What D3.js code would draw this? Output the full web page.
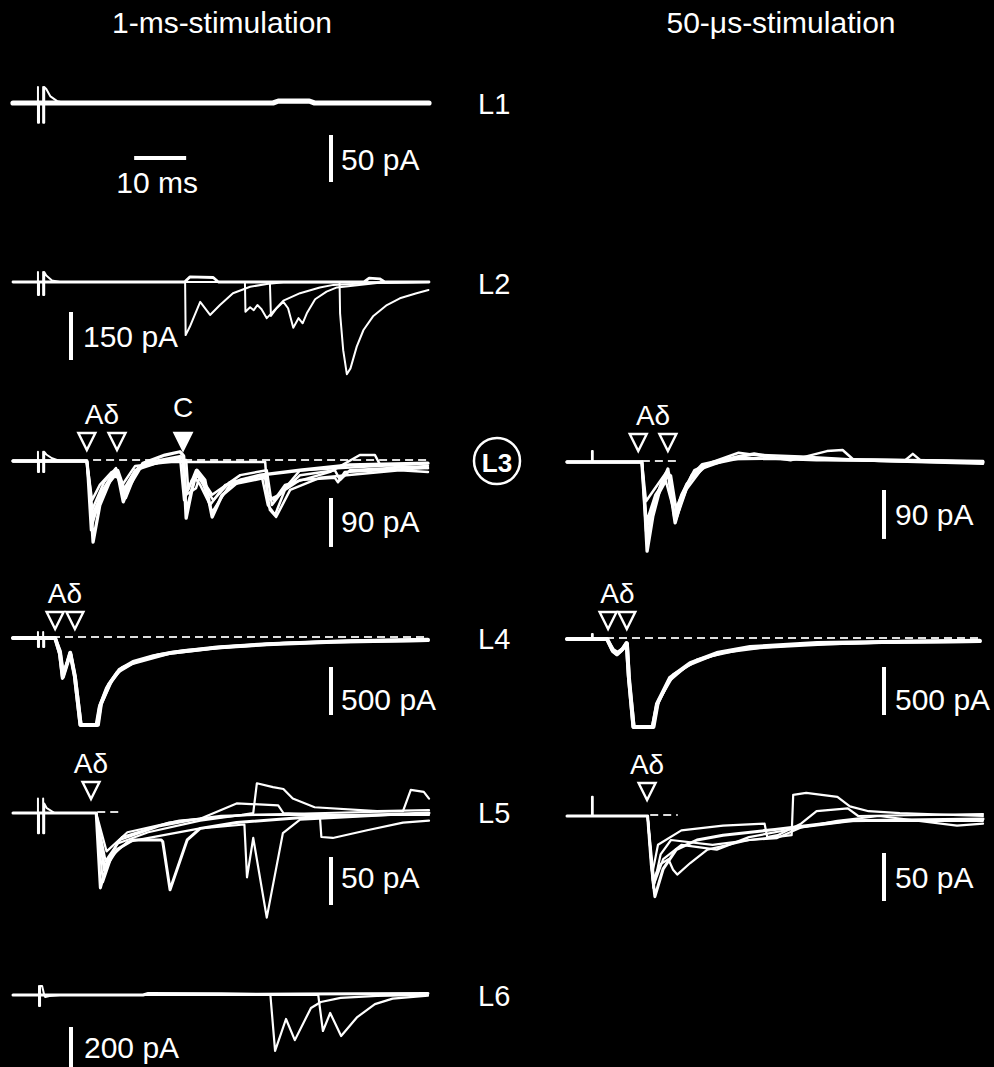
<!doctype html>
<html lang="en">
<head>
  <meta charset="utf-8">
  <title>Evoked EPSCs per lamina</title>
  <style>
  body { margin: 0; background: #000; }
  svg { display: block; background: #000; }
  text { font-family: "Liberation Sans", Arial, sans-serif; fill: #fff; }
  .trace { fill: none; stroke: #fff; stroke-linejoin: round; stroke-linecap: round; }
  .zero { stroke: #ddd; stroke-width: 2.2; stroke-dasharray: 8,5; }
  .bar { stroke: #fff; stroke-width: 4; }
  </style>
</head>
<body>
  <div id="fig"></div>
  <script src="https://cdn.jsdelivr.net/npm/d3@7"></script>

  <script>
// ---- data: time in ms, current in pA ----
var columns = ["1-ms-stimulation", "50-\u03bcs-stimulation"];
var laminae = ["L1", "L2", "L3", "L4", "L5", "L6"];

// stimulus artefacts
var stimL1 = [[4.8,0],[4.8,17],[4.8,-21],[5.0,-21],[5.0,0],[5.8,0],[5.8,17],[5.8,-21],[6.0,-21],[6.0,17],[6.4,15],[7.2,7],[8.5,2],[10,0]];
var stimL2 = [[4.8,0],[4.8,31],[4.8,-41],[5.0,-41],[5.0,0],[5.8,0],[5.8,31],[5.8,-41],[6.0,-41],[6.0,31],[6.4,20],[7.5,5],[9,0]];
var stimL3 = [[4.8,0],[4.8,17],[4.8,-20],[5.0,-20],[5.0,0],[5.8,0],[5.8,17],[5.8,-20],[6.0,-20],[6.0,17],[6.4,12],[7.5,5],[9,0]];
var stimL4 = [[4.8,0],[4.8,63],[4.8,-94],[5.0,-94],[5.0,0],[5.8,0],[5.8,63],[5.8,-94],[6.0,-94],[6.0,0]];
var stimL5 = [[4.8,0],[4.8,15],[4.8,-21],[5.0,-21],[5.0,0],[5.8,0],[5.8,15],[5.8,-21],[6.0,-21],[6.0,10],[6.5,5],[8,0]];
var stimL6 = [[5.0,0],[5.0,38],[5.0,-46],[5.2,-46],[5.2,38],[5.6,38],[6.0,0],[6.2,-8],[7,-4],[9,0]];
var stimR3 = [[4.8,0],[4.8,20],[4.95,20],[4.95,0]];
var stimR4 = [[4.8,0],[4.8,52],[4.95,52],[4.95,0]];
var stimR5 = [[4.8,0],[4.8,20],[4.95,20],[4.95,0]];

// sweeps, 1-ms stimulation
var sweepsL1 = [
  [[0,0],[10,0],[50,0],[51,2],[57,2],[58,0],[80,0]]
];
var sweepsL2 = [
  [[0,0],[33,0],[34,16],[38.5,14],[39.5,0],[67.5,0],[68.5,12],[70.5,10],[71.5,0],[80,0]],
  [[0,0],[33.1,0],[33.2,-166],[34,-140],[36,-62],[37.9,-103],[39.8,-72],[42.3,-35],[45.6,-15],[48.8,-6],[52,-1],[80,0]],
  [[0,0],[44.6,0],[44.7,-93],[45.6,-79],[46.3,-88],[47,-72],[47.8,-85],[48.8,-113],[49.7,-98],[52,-58],[55.2,-35],[59,-17],[61.6,-9],[70,-2],[80,0]],
  [[0,0],[49.4,0],[49.6,-106],[50.7,-82],[52,-62],[52.9,-82],[53.9,-143],[54.9,-113],[55.7,-129],[56.5,-98],[58.1,-54],[60.3,-30],[62.3,-17],[70,-3],[80,0]],
  [[0,0],[62.8,0],[62.9,-98],[63.5,-213],[64.2,-288],[64.9,-270],[66.1,-202],[67.4,-150],[69.3,-106],[71.9,-72],[74.4,-51],[77.6,-35],[79.9,-25]]
];
var sweepsL3 = [
  [[0,0],[14.2,0],[14.8,-53],[15.4,-149],[16.7,-81],[18.7,-35],[20,-17],[21.2,-75],[22.5,-44],[25,-4],[29.2,11],[32.1,17],[32.7,11],[33.3,-105],[34.4,-53],[35.4,-17],[36.9,-35],[38.3,-103],[40.2,-63],[43.7,-35],[47.5,-26],[55.2,-17],[64.8,-7],[79.8,-4]],
  [[0,0],[14.2,0],[15,-127],[16.7,-62],[19,-26],[20.2,-31],[21.3,-62],[23.5,-20],[26.3,-2],[32.7,6],[33.3,-90],[35,-31],[36,-44],[37.9,-81],[40.8,-44],[47.9,-31],[49,-81],[50.4,-99],[52.3,-53],[55.2,-35],[61.9,-31],[62.5,-39],[63.8,-20],[79.8,-13]],
  [[0,0],[14.2,0],[15.2,-72],[16.7,-44],[19,-20],[20.2,-17],[21.5,-53],[23.5,-17],[26.3,-2],[32.1,9],[32.9,-72],[34.4,-35],[35.4,-26],[38.5,-72],[41.7,-39],[48.5,-26],[49,-62],[50.2,-72],[52.3,-44],[61,-20],[66.7,11],[69.6,11],[70.6,-7],[79.8,-13]],
  [[0,0],[14.2,0],[15.2,-99],[17.5,-53],[19.6,-20],[20.6,-35],[21.7,-68],[24,-13],[32.9,9],[33.3,-62],[35.2,-50],[36,-26],[38.3,-94],[41.7,-44],[48.5,-31],[49.4,-90],[50.6,-103],[53.3,-53],[59,-31],[74.4,-17],[79.8,-20]],
  [[0,0],[14.2,0],[15.4,-108],[17.7,-50],[20.2,-20],[21,-57],[23.5,-17],[28.3,-2],[48.5,-2],[49,-72],[51.3,-62],[55.2,-26],[61.9,-17],[62.9,-35],[64.8,-17],[79.8,-9]],
  [[0,0],[14.2,0],[15.2,-90],[17.5,-39],[19.8,-13],[21,-44],[23.5,-9],[33.3,2],[33.7,-53],[35.2,-17],[38.3,-62],[43.7,-26],[48.8,-17],[49.8,-81],[51.7,-57],[55.2,-17],[79.8,-4]]
];
var sweepsL4 = [
  [[0,0],[8.1,0],[9.0,-156],[9.6,-406],[10.5,-250],[11.0,-156],[11.9,-400],[13.0,-906],[16.2,-906],[16.8,-700],[18.5,-480],[20.5,-330],[23.1,-250],[27,-190],[30.8,-150],[39.2,-100],[48.8,-65],[61.5,-40],[79.8,-20]],
  [[0,0],[8.1,0],[9.1,-140],[9.7,-380],[10.6,-230],[11.1,-170],[12.0,-420],[13.1,-906],[16.4,-906],[17.0,-680],[19,-440],[21,-310],[24,-240],[28,-175],[33,-130],[42,-90],[52,-55],[65,-35],[79.8,-25]],
  [[0,0],[8.1,0],[9.0,-170],[9.5,-420],[10.4,-260],[11.0,-150],[11.8,-380],[12.9,-906],[16.0,-906],[16.6,-720],[18,-520],[20,-360],[23,-265],[30,-160],[40,-95],[50,-60],[65,-30],[79.8,-15]]
];
var sweepsL5 = [
  [[0,0],[16,0],[16.2,-20],[16.8,-78],[18,-55],[20,-38],[23.1,-28],[28.5,-28],[28.8,-30],[30.2,-80],[33.5,-28],[36,-16],[43,-10],[55,-5],[80,0]],
  [[0,0],[16,0],[17.3,-72],[19,-45],[22,-30],[30,-22],[36,-16],[44.5,-12],[45,-67],[46.2,-26],[48.8,-109],[51.9,-21],[55.2,-7],[80,0]],
  [[0,0],[16,0],[17.5,-60],[20,-32],[26,-20],[36,-8],[44,-2],[46.2,0],[46.9,31],[50,27],[52,25],[53.8,15],[58,6],[70,2],[80,3]],
  [[0,0],[16,0],[17.6,-55],[20.5,-28],[28,-14],[36,-6],[43,10],[51,8],[52,0],[59,-2],[59.3,-25],[61.5,-26],[68.1,-18],[75,-10],[80,-8]],
  [[0,0],[16,0],[17.8,-50],[21,-25],[30,-10],[40,-3],[60,0],[75,2],[76.5,24],[79,22],[80,15]],
  [[0,0],[16,0],[18,-40],[22,-20],[32,-8],[45,-2],[80,-2]]
];
var sweepsL6 = [
  [[0,0],[25,0],[26,6],[40,5],[47,3],[55,4],[79.8,6]],
  [[0,0],[49.5,0],[50.4,-233],[52.5,-100],[54.2,-188],[57.3,-54],[59.2,-29],[63,-12],[70,-4],[79.8,0]],
  [[0,0],[58.7,0],[59.6,-150],[61.0,-75],[63.1,-171],[66.2,-92],[69.6,-38],[73,-15],[79.8,-3]]
];

// sweeps, 50-us stimulation
var sweepsR3 = [
  [[0,0],[14.4,0],[15,-90],[15.4,-164],[16.5,-100],[18,-45],[19.4,-13],[20,-60],[20.8,-112],[22,-70],[24,-25],[26,-5],[33,10],[36,15],[40,8],[50,5],[80,0]],
  [[0,0],[14.4,0],[15.2,-127],[16.5,-80],[18.5,-30],[19.6,-20],[20.6,-100],[22,-60],[24.5,-15],[28,0],[33,17],[37,12],[43,3],[50,20],[53,22],[55,5],[80,2]],
  [[0,0],[14.4,0],[15.2,-72],[16.8,-50],[19,-20],[20,-25],[21,-85],[23,-40],[26,-8],[34,8],[48,3],[65,3],[66.5,15],[68,3],[80,0]],
  [[0,0],[14.4,0],[15.3,-110],[17,-60],[19.5,-25],[21.2,-95],[23.5,-35],[27,-5],[35,14],[45,10],[60,2],[80,-3]],
  [[0,0],[14.4,0],[15.4,-140],[16.7,-75],[19,-35],[21,-105],[23,-50],[26,-12],[31,5],[40,6],[80,-2]]
];
var sweepsR4 = [
  [[0,0],[7.7,0],[8.8,-120],[9.6,-156],[10.6,-110],[11.5,-42],[11.9,-400],[12.8,-917],[16.5,-917],[17.3,-677],[19.8,-406],[23.7,-250],[28.8,-146],[35.2,-83],[48.1,-42],[60.8,-30],[79.4,-20]],
  [[0,0],[7.7,0],[8.9,-110],[9.7,-140],[10.8,-100],[11.6,-50],[12.0,-450],[12.9,-917],[16.7,-917],[17.6,-640],[20.5,-370],[25,-220],[30,-140],[37,-90],[50,-50],[65,-25],[79.4,-15]],
  [[0,0],[7.7,0],[8.8,-130],[9.6,-165],[10.5,-120],[11.4,-40],[11.8,-380],[12.7,-917],[16.4,-917],[17.2,-700],[19.5,-440],[23,-280],[28,-170],[34,-100],[45,-55],[60,-35],[79.4,-25]]
];
var sweepsR5 = [
  [[0,0],[15.5,0],[16.2,-50],[16.9,-84],[18.5,-55],[21,-35],[25,-25],[30,-20],[40,-14],[54,-5],[80,-3]],
  [[0,0],[15.5,0],[16.5,-67],[18,-50],[19.5,-45],[20.4,-56],[21.2,-61],[23.7,-49],[27,-35],[35,-25],[40,-22],[43.2,-20],[43.5,22],[46,24],[52,20],[54.4,10],[58,5],[64,3],[80,0]],
  [[0,0],[15.5,0],[16.6,-75],[18,-40],[20,-25],[28,-30],[35.2,-25],[40.4,-23],[45,-12],[52,-5],[60,0],[75,-10],[80,-8]],
  [[0,0],[15.5,0],[16.4,-60],[17.5,-30],[22,-15],[30,-10],[38,-8],[38.5,-22],[40.5,-20],[45,-8],[48,5],[54,8],[56,0],[80,2]],
  [[0,0],[15.5,0],[16.8,-70],[18.5,-45],[22,-30],[28.8,-35],[35,-22],[45,-12],[55,-5],[80,-5]]
];

// event markers (ms)
var adeltaL3 = [14.2, 20.0], cfibreL3 = [32.7], adeltaR3 = [13.7, 19.4];
var adeltaL4 = [8.1, 11.9], adeltaR4 = [7.9, 11.5];
var adeltaL5 = [15.0], adeltaR5 = [15.4];

// scale bars
var barValues = [50, 150, 90, 90, 500, 500, 50, 50, 200];
var barLabels = ["50 pA", "150 pA", "90 pA", "90 pA", "500 pA", "500 pA", "50 pA", "50 pA", "200 pA"];
var timeBar = 10, timeBarLabel = "10 ms";

(function() {

  var width = 994, height = 1067;

  var svg = d3.select("#fig").append("svg")
      .attr("width", width)
      .attr("height", height);

  var xs = {
    left: d3.scaleLinear().domain([0, 80]).range([13, 429]),
    right: d3.scaleLinear().domain([0, 80]).range([567, 983])
  };

  // panel layout: baseline y, px per pA, line width
  var panels = [
    {side: "left",  sweeps: sweepsL1, stim: stimL1, base: 103, k: 0.94,  sw: 4.4},
    {side: "left",  sweeps: sweepsL2, stim: stimL2, base: 282, k: 0.32,  sw: 2},
    {side: "left",  sweeps: sweepsL3, stim: stimL3, base: 461, k: 0.544, sw: 2.5, zero: [15.4, 80],
      marks: [{t: adeltaL3, label: "A\u03b4"}, {t: cfibreL3, label: "C", filled: true, dy: -7}]},
    {side: "right", sweeps: sweepsR3, stim: stimR3, base: 462, k: 0.544, sw: 2.5, zero: [14.4, 21.6],
      marks: [{t: adeltaR3, label: "A\u03b4"}]},
    {side: "left",  sweeps: sweepsL4, stim: stimL4, base: 638, k: 0.096, sw: 3.2, zero: [0, 80],
      marks: [{t: adeltaL4, label: "A\u03b4", top: -26}]},
    {side: "right", sweeps: sweepsR4, stim: stimR4, base: 639, k: 0.096, sw: 3.2, zero: [0, 80],
      marks: [{t: adeltaR4, label: "A\u03b4", top: -27}]},
    {side: "left",  sweeps: sweepsL5, stim: stimL5, base: 813, k: 0.96,  sw: 2.2, zero: [16.2, 20.5],
      marks: [{t: adeltaL5, label: "A\u03b4", top: -31}]},
    {side: "right", sweeps: sweepsR5, stim: stimR5, base: 816, k: 0.96,  sw: 2.2, zero: [16, 21.3],
      marks: [{t: adeltaR5, label: "A\u03b4", top: -33}]},
    {side: "left",  sweeps: sweepsL6, stim: stimL6, base: 995, k: 0.24,  sw: 2.2}
  ];

  // scale-bar positions, same order as barValues
  var bars = [
    {p: 0, x: 331, top: 135, lx: 341, ly: 170},
    {p: 1, x: 71,  top: 312, lx: 83,  ly: 347},
    {p: 2, x: 331, top: 498, lx: 341, ly: 532},
    {p: 3, x: 884, top: 490, lx: 895, ly: 525},
    {p: 4, x: 331, top: 667, lx: 341, ly: 710},
    {p: 5, x: 884, top: 667, lx: 895, ly: 710},
    {p: 6, x: 331, top: 857, lx: 341, ly: 888},
    {p: 7, x: 884, top: 853, lx: 895, ly: 888},
    {p: 8, x: 71,  top: 1027, lx: 84, ly: 1058}
  ];

  panels.forEach(function(p) {
    var x = xs[p.side];
    var y = d3.scaleLinear().domain([0, -100]).range([p.base, p.base + 100 * p.k]);
    var line = d3.line().x(function(d) { return x(d[0]); }).y(function(d) { return y(d[1]); });
    var g = svg.append("g");

    if (p.zero) {
      g.append("line").attr("class", "zero")
        .attr("x1", x(p.zero[0])).attr("x2", x(p.zero[1]))
        .attr("y1", p.base - 1).attr("y2", p.base - 1);
    }

    g.selectAll("path.trace").data(p.sweeps).enter()
      .append("path")
      .attr("class", "trace")
      .attr("stroke-width", function(d, i) { return i ? p.sw : p.sw + 0.8; })
      .attr("d", line);

    g.append("path").attr("class", "trace")
      .attr("stroke-width", 2)
      .attr("d", line(p.stim));

    (p.marks || []).forEach(function(m) {
      var top = p.base + (m.top || -28), h = 17, hw = 8.5;
      m.t.forEach(function(t) {
        var cx = x(t);
        g.append("path")
          .attr("d", "M" + (cx - hw) + "," + top + "L" + (cx + hw) + "," + top + "L" + cx + "," + (top + h) + "Z")
          .attr("fill", m.filled ? "#fff" : "none")
          .attr("stroke", "#fff")
          .attr("stroke-width", 2.4)
          .attr("stroke-linejoin", "miter");
      });
      g.append("text")
        .attr("x", x(d3.mean(m.t)))
        .attr("y", top - 9 + (m.dy || 0))
        .attr("text-anchor", "middle")
        .attr("font-size", 28)
        .text(m.label);
    });
  });

  // vertical pA scale bars
  bars.forEach(function(b, i) {
    var len = barValues[i] * panels[b.p].k;
    svg.append("line").attr("class", "bar")
      .attr("x1", b.x).attr("x2", b.x)
      .attr("y1", b.top).attr("y2", b.top + len);
    svg.append("text")
      .attr("x", b.lx).attr("y", b.ly)
      .attr("font-size", 30)
      .text(barLabels[i]);
  });

  // 10 ms bar
  var t0 = 23.3;
  svg.append("line").attr("class", "bar")
    .attr("x1", xs.left(t0)).attr("x2", xs.left(t0 + timeBar))
    .attr("y1", 158).attr("y2", 158);
  svg.append("text")
    .attr("x", xs.left(t0 + timeBar / 2) - 3).attr("y", 193)
    .attr("text-anchor", "middle")
    .attr("font-size", 30)
    .text(timeBarLabel);

  // column headings
  svg.selectAll("text.head").data(columns).enter()
    .append("text")
    .attr("class", "head")
    .attr("x", function(d, i) { return i ? 781 : 222; })
    .attr("y", 33)
    .attr("text-anchor", "middle")
    .attr("font-size", 30)
    .text(function(d) { return d; });

  // lamina labels
  var labelY = [114, 294, 472, 649, 823, 1006];
  svg.selectAll("text.lam").data(laminae).enter()
    .append("text")
    .attr("class", "lam")
    .attr("x", function(d) { return d === "L3" ? 497 : 478; })
    .attr("y", function(d, i) { return labelY[i]; })
    .attr("text-anchor", function(d) { return d === "L3" ? "middle" : "start"; })
    .attr("font-size", function(d) { return d === "L3" ? 26 : 29; })
    .attr("font-weight", function(d) { return d === "L3" ? "bold" : "normal"; })
    .text(function(d) { return d; });

  svg.append("circle")
    .attr("cx", 497).attr("cy", 461).attr("r", 23)
    .attr("fill", "none").attr("stroke", "#fff").attr("stroke-width", 2.5);

})();
  </script>
</body>
</html>
